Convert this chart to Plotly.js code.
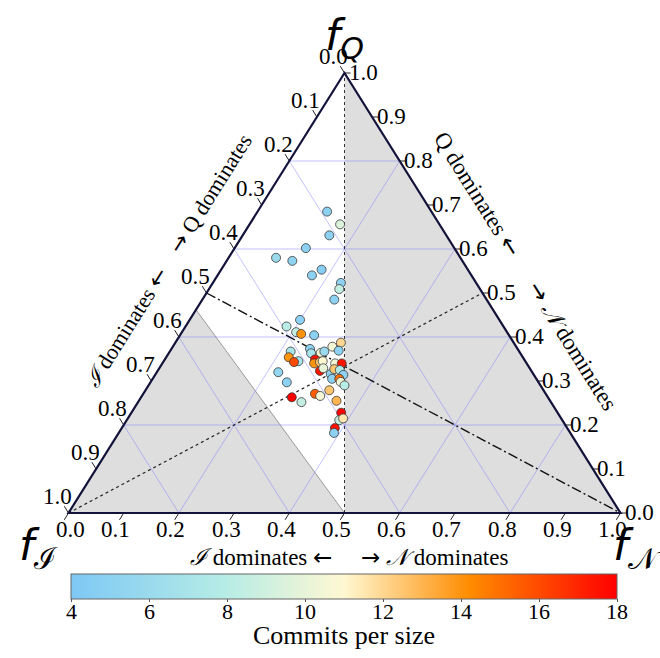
<!DOCTYPE html>
<html>
<head>
<meta charset="utf-8">
<script src="https://cdn.plot.ly/plotly-3.0.1.min.js"></script>
<style>html,body{margin:0;padding:0;background:#fff;}#chart{width:660px;height:658px;}</style>
</head>
<body>
<div id="chart"></div>
<script>
// ---- data (ternary fractions) ----
const fI = [0.189,0.180,0.212,0.269,0.334,0.308,0.265,0.289,0.245,0.255,0.276,0.361,0.393,0.382,0.375,0.353,0.333,0.313,0.326,0.376,0.414,0.379,0.361,0.353,0.424,0.411,0.420,0.379,0.385,0.373,0.367,0.347,0.335,0.383,0.374,0.367,0.355,0.346,0.345,0.370,0.357,0.358,0.355,0.460,0.456,0.388,0.418,0.411,0.464,0.452,0.387,0.392,0.404,0.395,0.421,0.428];
const fQ = [0.685,0.656,0.631,0.602,0.580,0.573,0.553,0.540,0.523,0.509,0.485,0.439,0.424,0.411,0.407,0.404,0.378,0.387,0.369,0.373,0.367,0.363,0.364,0.367,0.354,0.345,0.343,0.349,0.340,0.343,0.345,0.340,0.340,0.323,0.329,0.316,0.327,0.325,0.314,0.305,0.305,0.298,0.290,0.320,0.297,0.279,0.271,0.266,0.263,0.252,0.255,0.228,0.211,0.215,0.193,0.182];
const fN = [0.126,0.164,0.157,0.129,0.086,0.119,0.182,0.171,0.232,0.236,0.239,0.200,0.183,0.207,0.218,0.243,0.289,0.300,0.305,0.251,0.219,0.258,0.275,0.280,0.222,0.244,0.237,0.272,0.275,0.284,0.288,0.313,0.325,0.294,0.297,0.317,0.318,0.329,0.341,0.325,0.338,0.344,0.355,0.220,0.247,0.333,0.311,0.323,0.273,0.296,0.358,0.380,0.385,0.390,0.386,0.390];
const commits = [5.0,9.5,5.0,5.0,6.0,5.2,4.5,5.0,5.0,8.5,5.0,5.0,8.0,8.5,14.0,5.0,10.5,12.0,5.0,5.0,7.0,7.0,10.5,6.0,14.0,7.0,16.0,17.5,14.0,12.5,11.0,10.5,17.5,17.5,10.0,5.0,12.5,7.5,5.0,5.0,15.0,10.5,8.0,5.5,5.0,12.5,15.5,10.5,18.0,8.5,13.0,18.0,8.5,11.5,17.5,5.0];

const axisTicks = [0,0.1,0.2,0.3,0.4,0.5,0.6,0.7,0.8,0.9,1.0];
const axisTickText = ['0.0','0.1','0.2','0.3','0.4','0.5','0.6','0.7','0.8','0.9','1.0'];
const gridVals = [0.2,0.4,0.6,0.8];
const cbTicks = [4,6,8,10,12,14,16,18];
const cbMin = 4, cbMax = 18;

// ---- geometry helpers ----
const PXW = 552, PXH = 440;           // pixel size of one data unit (x, y)
const X0 = -68.5/PXW, X1 = (660-68.5)/PXW;
const Y0 = (513-658)/PXH, Y1 = 513/PXH;
function xy(i,q,n){ return [n + q/2, q]; }
function seg(p1,p2,style){ return {type:'line',xref:'x',yref:'y',x0:p1[0],y0:p1[1],x1:p2[0],y1:p2[1],line:style,layer:'below'}; }
function poly(pts,fill,lineStyle){
  let d = 'M ' + pts.map(p=>p[0]+' '+p[1]).join(' L ') + ' Z';
  return {type:'path',xref:'x',yref:'y',path:d,fillcolor:fill,line:lineStyle,layer:'below'};
}

const shapes = [];
// grey regions
shapes.push(poly([xy(0.5,0,0.5), xy(0,0,1), xy(0,1,0)], '#dedede', {width:0}));
shapes.push(poly([xy(1,0,0), xy(0.5,0,0.5), xy(0.538,0.462,0)], '#dedede', {color:'#9a9a9a', width:1}));
// gridlines
const gridStyle = {color:'rgba(110,110,255,0.42)', width:1};
gridVals.forEach(k=>{
  shapes.push(seg(xy(1-k,k,0), xy(0,k,1-k), gridStyle));      // fQ = k
  shapes.push(seg(xy(k,1-k,0), xy(k,0,1-k), gridStyle));      // fI = k
  shapes.push(seg(xy(1-k,0,k), xy(0,1-k,k), gridStyle));      // fN = k
});
// reference lines
shapes.push(seg(xy(0.5,0,0.5), xy(0,1,0), {color:'#333', width:1, dash:'dot'}));          // fI = fN
shapes.push(seg(xy(1,0,0), xy(0,0.5,0.5), {color:'#222', width:1.2, dash:'dot'}));        // fQ = fN
shapes.push(seg(xy(0.5,0.5,0), xy(0,0,1), {color:'#111', width:1.4, dash:'10px,3px,2px,3px'})); // fI = fQ
// ticks
const tickStyle = {color:'#222', width:1};
axisTicks.forEach(k=>{
  const L = xy(k,1-k,0);
  shapes.push(seg(L, [L[0]-4.2/PXW, L[1]+6.8/PXH], tickStyle));
  const Rr = xy(0,k,1-k);
  shapes.push(seg(Rr, [Rr[0]+6/PXW, Rr[1]], tickStyle));
  const B = xy(1-k,0,k);
  shapes.push(seg(B, [B[0]-4.2/PXW, B[1]-6.8/PXH], tickStyle));
});
// triangle border
shapes.push(poly([xy(1,0,0), xy(0,0,1), xy(0,1,0)], 'rgba(0,0,0,0)', {color:'#12123a', width:2.2}));

// ---- annotations ----
const serif = 'Liberation Serif, Times New Roman, serif';
const ann = [];
axisTicks.forEach((k,idx)=>{
  const L = xy(k,1-k,0);
  ann.push({x:L[0],y:L[1],xref:'x',yref:'y',text:axisTickText[idx],showarrow:false,xshift:-11,yshift:17,font:{family:serif,size:23,color:'#000'}});
  const R = xy(0,k,1-k);
  ann.push({x:R[0],y:R[1],xref:'x',yref:'y',text:axisTickText[idx],showarrow:false,xshift:19,yshift:1,font:{family:serif,size:23,color:'#000'}});
  const B = xy(1-k,0,k);
  ann.push({x:B[0],y:B[1],xref:'x',yref:'y',text:axisTickText[idx],showarrow:false,xshift:(k===0?2:-8),yshift:-16,font:{family:serif,size:23,color:'#000'}});
});
const nb = '\u00a0';
const arr = s => '<span style="font-family:DejaVu Sans">'+s+'</span>';
ann.push({x:(349-68.5)/PXW, y:(513-557)/PXH, xref:'x',yref:'y',showarrow:false,
  text:'<i>ℐ</i> dominates '+arr('←')+nb.repeat(5)+arr('→')+' <i>𝒩</i> dominates', font:{family:serif,size:23,color:'#000'}});
ann.push({x:(168-68.5)/PXW, y:(513-260)/PXH, xref:'x',yref:'y',showarrow:false,textangle:-57.9,
  text:'<i>ℐ</i> dominates '+arr('←')+nb.repeat(4)+arr('→')+' Q dominates', font:{family:serif,size:22,color:'#000'}});
ann.push({x:(526-68.5)/PXW, y:(513-271)/PXH, xref:'x',yref:'y',showarrow:false,textangle:57.9,
  text:'Q dominates '+arr('←')+nb.repeat(6)+arr('→')+' <i>𝒩</i> dominates', font:{family:serif,size:23,color:'#000'}});
const sans = 'DejaVu Sans, sans-serif';
ann.push({x:0.5, y:(513-38)/PXH, xref:'x',yref:'y',showarrow:false,text:'<i>f<sub>Q</sub></i>',font:{family:sans,size:43,color:'#000'}});
ann.push({x:(38-68.5)/PXW, y:(513-548)/PXH, xref:'x',yref:'y',showarrow:false,
  text:'<i>f</i><sub><span style="font-family:Liberation Serif">ℐ</span></sub>',font:{family:sans,size:43,color:'#000'}});
ann.push({x:(637-68.5)/PXW, y:(513-548)/PXH, xref:'x',yref:'y',showarrow:false,
  text:'<i>f</i><sub><span style="font-family:Liberation Serif">𝒩</span></sub>',font:{family:sans,size:43,color:'#000'}});
// colorbar tick labels and title
const cbLeft = 71, cbLen = 546;
cbTicks.forEach(v=>{
  ann.push({x:(cbLeft + (v-cbMin)/(cbMax-cbMin)*cbLen)/660, y:(658-611)/658, xref:'paper', yref:'paper',
    xanchor:'center', yanchor:'middle', showarrow:false, text:String(v), font:{family:serif,size:22,color:'#000'}});
});
ann.push({x:344/660, y:(658-635)/658, xref:'paper', yref:'paper', xanchor:'center', yanchor:'middle', showarrow:false,
  text:'Commits per size', font:{family:serif,size:26,color:'#000'}});

// ---- points ----
const px = [], py = [];
for (let j=0;j<fQ.length;j++){ const p = xy(fI[j],fQ[j],fN[j]); px.push(p[0]); py.push(p[1]); }

const trace = {
  type:'scatter', mode:'markers', x:px, y:py, hoverinfo:'skip', cliponaxis:false,
  marker:{
    size:9, color:commits, cmin:cbMin, cmax:cbMax,
    colorscale:[[0,'#7ec8f5'],[0.28,'#b6ece6'],[0.5,'#fff8d2'],[0.73,'#ff8c00'],[1,'#ff0000']],
    line:{color:'#3a3a3a', width:0.8},
    showscale:true,
    colorbar:{orientation:'h', x:(cbLeft+cbLen/2)/660, xanchor:'center', len:cbLen/660, lenmode:'fraction',
      y:(658-574)/658, yanchor:'top', ypad:0, xpad:0, thickness:25, thicknessmode:'pixels',
      outlinecolor:'#666', outlinewidth:1, ticks:'outside', ticklen:3, tickcolor:'#555',
      tickvals:cbTicks, showticklabels:false}
  }
};

const layout = {
  width:660, height:658, margin:{l:0,r:0,t:0,b:0,autoexpand:false},
  paper_bgcolor:'#fff', plot_bgcolor:'#fff', showlegend:false, hovermode:false,
  xaxis:{range:[X0,X1], visible:false, fixedrange:true},
  yaxis:{range:[Y0,Y1], visible:false, fixedrange:true},
  shapes:shapes, annotations:ann
};
Plotly.newPlot('chart',[trace],layout,{staticPlot:true, displayModeBar:false});
</script>
</body>
</html>
